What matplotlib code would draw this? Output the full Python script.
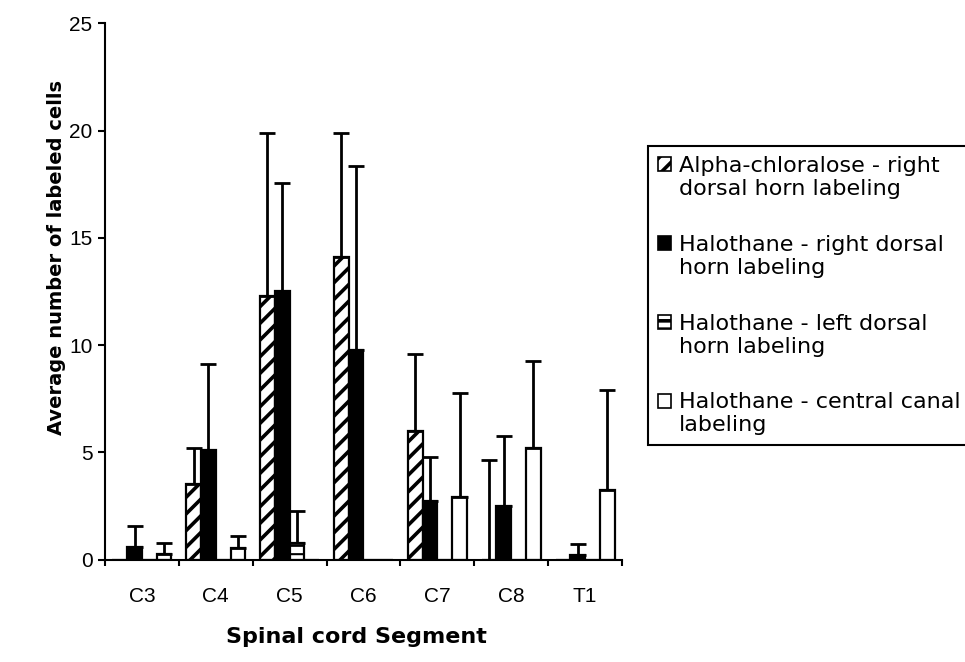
import numpy as np
import matplotlib.pyplot as plt
from matplotlib.patches import Patch, Rectangle
from matplotlib.legend_handler import HandlerPatch

plt.rcParams['font.family'] = ['Liberation Sans', 'DejaVu Sans']
plt.rcParams['hatch.linewidth'] = 2.6
plt.rcParams['hatch.color'] = 'black'

segments = ["C3", "C4", "C5", "C6", "C7", "C8", "T1"]

# mean labeled cells per segment, with upper error (SD)
alpha_right = [0, 3.5, 12.3, 14.1, 6.0, 0, 0]
alpha_right_err = [0, 1.7, 7.6, 5.8, 3.6, 4.65, 0]
halo_right = [0.6, 5.1, 12.5, 9.75, 2.75, 2.5, 0.2]
halo_right_err = [0.95, 4.0, 5.05, 8.6, 2.05, 3.25, 0.5]
halo_left = [0, 0, 0.75, 0, 0, 0, 0]
halo_left_err = [0, 0, 1.5, 0, 0, 0, 0]
halo_central = [0.25, 0.55, 0, 0, 2.9, 5.2, 3.25]
halo_central_err = [0.5, 0.55, 0, 0, 4.85, 4.05, 4.65]

labels = ["Alpha-chloralose - right\ndorsal horn labeling",
          "Halothane - right dorsal\nhorn labeling",
          "Halothane - left dorsal\nhorn labeling",
          "Halothane - central canal\nlabeling"]

series = [(alpha_right, alpha_right_err, 'white', '//'),
          (halo_right, halo_right_err, 'black', ''),
          (halo_left, halo_left_err, 'white', '--'),
          (halo_central, halo_central_err, 'white', '')]

fig = plt.figure(figsize=(9.65, 6.62), dpi=100)
ax = fig.add_axes([105 / 965, 102.5 / 662, 517 / 965, 536.2 / 662])

x = np.arange(len(segments))
w = 0.2
for i, (vals, errs, fc, hatch) in enumerate(series):
    pos = x + (i - 1.5) * w
    bars = ax.bar(pos, vals, width=w, color=fc, edgecolor='black',
                  linewidth=1.6, hatch=hatch, zorder=2)
    if hatch == '--':
        for b in bars:
            if hasattr(b, 'set_hatch_linewidth'):
                b.set_hatch_linewidth(1.5)
    vals = np.array(vals)
    errs = np.array(errs)
    m = errs > 0
    ax.errorbar(pos[m], vals[m], yerr=[np.zeros(m.sum()), errs[m]],
                fmt='none', ecolor='black', elinewidth=2, capsize=5.5,
                capthick=2, zorder=3)

ax.set_xlim(-0.5, len(segments) - 0.5)
ax.set_ylim(0, 25)
ax.set_yticks([0, 5, 10, 15, 20, 25])

# ticks between categories, labels centred under them
ax.set_xticks(np.arange(len(segments) + 1) - 0.5)
ax.set_xticklabels([])
ax.set_xticks(x, minor=True)
ax.set_xticklabels(segments, minor=True)
ax.tick_params(axis='x', which='major', direction='out', length=4, width=1.5)
ax.tick_params(axis='x', which='minor', length=0, pad=20, labelsize=15)
ax.tick_params(axis='y', direction='out', length=5, width=1.5, pad=4, labelsize=15)

for s in ['top', 'right']:
    ax.spines[s].set_visible(False)
for s in ['left', 'bottom']:
    ax.spines[s].set_linewidth(1.5)

ax.set_ylabel("Average number of labeled cells", fontsize=14, fontweight='bold',
              family='DejaVu Sans')
ax.yaxis.label.set_va('center')
ax.yaxis.set_label_coords(-0.094, 0.5625)
ax.set_xlabel("Spinal cord Segment", fontsize=16, fontweight='bold',
              family='DejaVu Sans')
ax.xaxis.label.set_va('center')
ax.xaxis.set_label_coords(0.4855, -0.1445)


def top_box(legend, orig_handle, xdescent, ydescent, width, height, fontsize):
    # keep the swatch level with the first line of a two-line label
    return Rectangle((-xdescent, -ydescent + 0.6 * fontsize), width, height)


handles = [Patch(facecolor=fc, edgecolor='black', hatch=h, linewidth=1.2)
           for (_, _, fc, h) in series]
leg = fig.legend(handles, labels, loc='upper left',
                 bbox_to_anchor=(648 / 965, 1 - 146 / 662),
                 handler_map={Patch: HandlerPatch(patch_func=top_box)},
                 frameon=True, fancybox=False, framealpha=1, edgecolor='black',
                 prop={'family': 'DejaVu Sans', 'size': 16},
                 handlelength=0.6, handleheight=0.6,
                 handletextpad=0.35, labelspacing=1.6, borderpad=0.45,
                 borderaxespad=0)
leg.get_frame().set_linewidth(1.5)
for t in leg.get_texts():
    t.set_linespacing(1.2)

fig.savefig("out.png", dpi=100)
